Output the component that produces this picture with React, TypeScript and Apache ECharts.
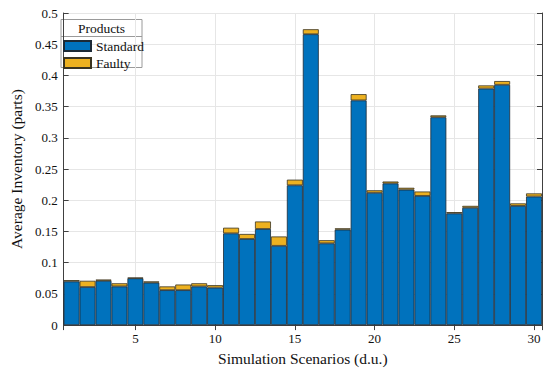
import React, { useEffect, useRef } from "react";
import * as echarts from "echarts";

const scenarios = [1, 2, 3, 4, 5, 6, 7, 8, 9, 10, 11, 12, 13, 14, 15, 16, 17, 18, 19, 20, 21, 22, 23, 24, 25, 26, 27, 28, 29, 30];
const standard = [0.070, 0.061, 0.071, 0.062, 0.075, 0.068, 0.056, 0.056, 0.062, 0.060, 0.147, 0.138, 0.154, 0.127, 0.224, 0.466, 0.131, 0.153, 0.360, 0.212, 0.227, 0.217, 0.207, 0.333, 0.179, 0.188, 0.379, 0.385, 0.191, 0.206];
const faulty = [0.002, 0.010, 0.002, 0.005, 0.001, 0.002, 0.006, 0.009, 0.005, 0.004, 0.009, 0.008, 0.012, 0.015, 0.009, 0.008, 0.005, 0.002, 0.010, 0.004, 0.003, 0.003, 0.007, 0.003, 0.002, 0.003, 0.005, 0.006, 0.004, 0.005];
const seriesNames = ["Standard", "Faulty"];
const legendTitle = "Products";
const xName = "Simulation Scenarios (d.u.)";
const yName = "Average Inventory (parts)";

const FONT = "Liberation Serif";
const AXIS = "#404040";
const GRID = "#e6e6e6";

export default function App() {
  const ref = useRef<HTMLDivElement>(null);
  useEffect(() => {
    document.body.style.margin = "0";
    if (!ref.current) return;
    const chart = echarts.init(ref.current, null, { renderer: "svg" });
    const fmtX = (v: number) => (Math.abs(v - Math.round(v)) < 1e-9 && Math.round(v) % 5 === 0 ? String(Math.round(v)) : "");
    const fmtY = (v: number) => String(parseFloat(v.toFixed(3)));
    const baseX = {
      type: "value" as const,
      min: 0.5,
      max: 30.5,
      splitNumber: 6,
    };
    const baseY = { type: "value" as const, min: 0, max: 0.5, interval: 0.05 };
    chart.setOption({
      animation: false,
      backgroundColor: "#ffffff",
      textStyle: { fontFamily: FONT },
      grid: { left: 54, right: 8, top: 13, bottom: 43, containLabel: false },
      legend: {
        data: seriesNames,
        orient: "vertical",
        left: 59,
        top: 37,
        itemWidth: 27,
        itemHeight: 10,
        itemGap: 3,
        padding: [2, 4, 2, 4],
        icon: "rect",
        textStyle: { fontFamily: FONT, fontSize: 13.5, color: "#111", lineHeight: 12 },
      },
      graphic: [
        {
          type: "rect",
          shape: { x: 61, y: 19.5, width: 81, height: 48 },
          style: { fill: "#ffffff", stroke: "#9a9a9a", lineWidth: 1 },
        },
        {
          type: "line",
          shape: { x1: 61, y1: 36.5, x2: 142, y2: 36.5 },
          style: { stroke: "#9a9a9a", lineWidth: 1 },
        },
        {
          type: "text",
          x: 101.5,
          y: 28,
          style: { text: legendTitle, fontFamily: FONT, fontSize: 13.5, fill: "#111", align: "center", verticalAlign: "middle" },
        },
      ],
      xAxis: [
        {
          ...baseX,
          position: "bottom",
          name: xName,
          nameLocation: "middle",
          nameGap: 18,
          nameTextStyle: { fontFamily: FONT, fontSize: 15.5, color: "#111" },
          axisLine: { show: true, onZero: false, lineStyle: { color: AXIS, width: 1 } },
          axisTick: { show: true, inside: true, length: 5, lineStyle: { color: AXIS } },
          axisLabel: { formatter: fmtX, fontFamily: FONT, fontSize: 13, color: "#111", margin: 7 },
          splitLine: { show: true, lineStyle: { color: GRID, width: 1 } },
        },
        {
          ...baseX,
          position: "top",
          axisLine: { show: true, lineStyle: { color: AXIS, width: 1 } },
          axisTick: { show: true, inside: true, length: 5, lineStyle: { color: AXIS } },
          axisLabel: { show: false },
          splitLine: { show: false },
        },
        {
          type: "category",
          data: scenarios.map(String),
          show: false,
          boundaryGap: true,
        },
      ],
      yAxis: [
        {
          ...baseY,
          position: "left",
          name: yName,
          nameLocation: "middle",
          nameGap: 32,
          nameTextStyle: { fontFamily: FONT, fontSize: 15.5, color: "#111" },
          axisLine: { show: true, lineStyle: { color: AXIS, width: 1 } },
          axisTick: { show: true, inside: true, length: 5, lineStyle: { color: AXIS } },
          axisLabel: { formatter: fmtY, fontFamily: FONT, fontSize: 13, color: "#111", margin: 6 },
          splitLine: { show: true, lineStyle: { color: GRID, width: 1 } },
        },
        {
          ...baseY,
          position: "right",
          axisLine: { show: true, lineStyle: { color: AXIS, width: 1 } },
          axisTick: { show: true, inside: true, length: 5, lineStyle: { color: AXIS } },
          axisLabel: { show: false },
          splitLine: { show: false },
        },
      ],
      series: [
        {
          name: seriesNames[0],
          type: "bar",
          stack: "total",
          xAxisIndex: 2,
          yAxisIndex: 0,
          barCategoryGap: "0%",
          data: standard,
          itemStyle: { color: "#0072BD", borderColor: "#1c2a36", borderWidth: 0.8 },
        },
        {
          name: seriesNames[1],
          type: "bar",
          stack: "total",
          xAxisIndex: 2,
          yAxisIndex: 0,
          barCategoryGap: "0%",
          data: faulty,
          itemStyle: { color: "#EDB120", borderColor: "#3a3420", borderWidth: 0.8 },
        },
      ],
    });
    return () => chart.dispose();
  }, []);
  return <div ref={ref} style={{ width: 550, height: 371 }} />;
}
